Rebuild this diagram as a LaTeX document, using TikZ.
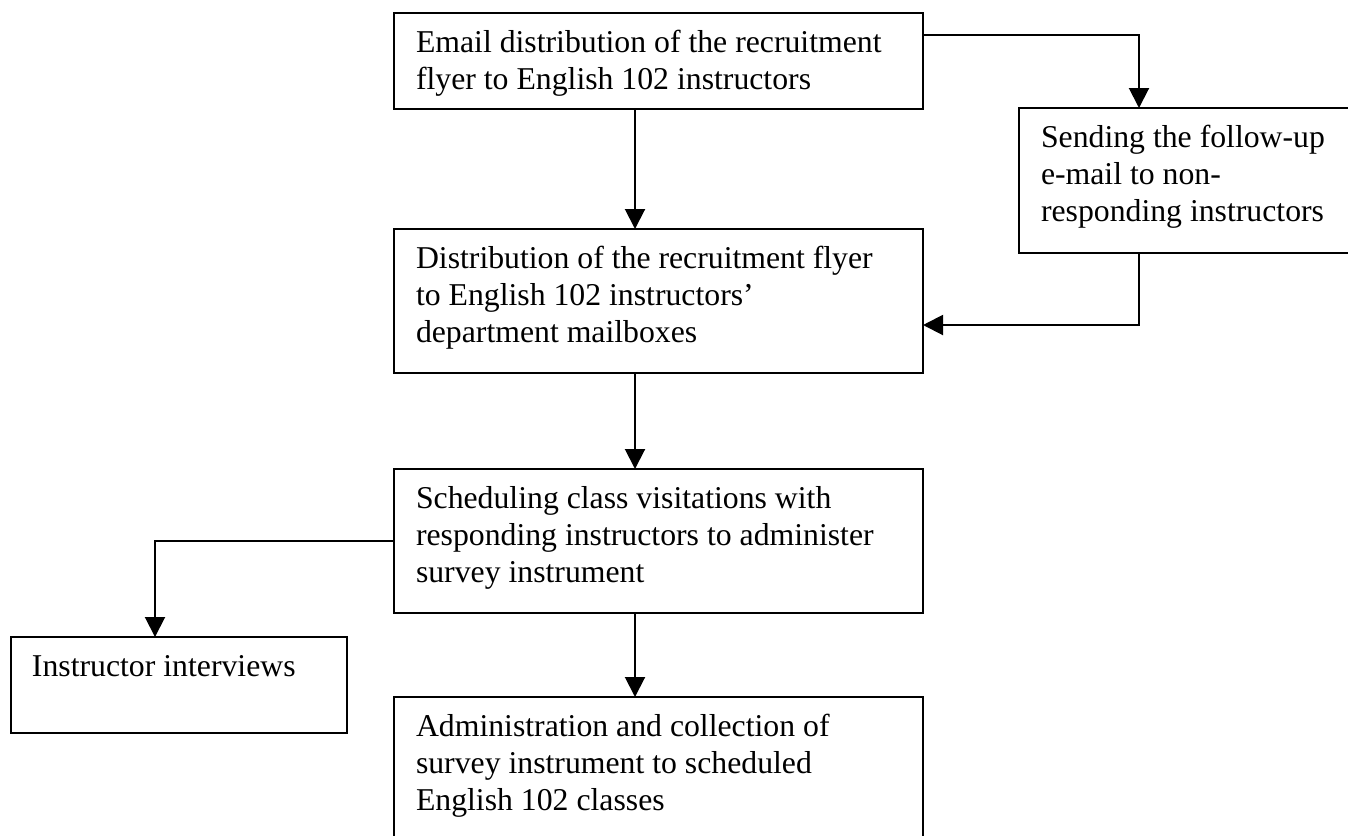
\documentclass[tikz,border=0pt]{standalone}
\usepackage{fontspec}
\setmainfont{Liberation Serif}
\usetikzlibrary{arrows.meta}
\begin{document}
\begin{tikzpicture}[x=0.4pt,y=-0.4pt,
  box/.style={draw=black, line width=0.8pt, inner sep=0pt, outer sep=0pt, anchor=north west},
  txt/.style={inner sep=0pt, outer sep=0pt, anchor=base west, font=\fontsize{12.7pt}{14.8pt}\selectfont},
  arr/.style={draw=black, line width=0.8pt, -{Triangle[length=8pt,width=8pt]}}]
\useasboundingbox[fill=white] (0,0) rectangle (1348,835);
% boxes
\node[box, minimum width=211.6pt, minimum height=38.4pt] (A) at (394,13) {};
\node[box, minimum width=133.2pt, minimum height=58pt] (B) at (1019,108) {};
\node[box, minimum width=211.6pt, minimum height=57.6pt] (C) at (394,229) {};
\node[box, minimum width=211.6pt, minimum height=57.6pt] (D) at (394,469) {};
\node[box, minimum width=134.4pt, minimum height=38.4pt] (E) at (11,637) {};
\node[box, minimum width=211.6pt, minimum height=61.2pt] (F) at (394,697) {};
% texts
\node[txt] (At) at (416,52) {\parbox[t]{200pt}{\raggedright Email distribution of the recruitment\\flyer to English 102 instructors}};
\node[txt] (Bt) at (1041,147) {\parbox[t]{122pt}{\raggedright Sending the follow-up\\e-mail to non-\\responding instructors}};
\node[txt] (Ct) at (416,268) {\parbox[t]{200pt}{\raggedright Distribution of the recruitment flyer\\to English 102 instructors’\\department mailboxes}};
\node[txt] (Dt) at (416,508) {\parbox[t]{200pt}{\raggedright Scheduling class visitations with\\responding instructors to administer\\survey instrument}};
\node[txt] (Et) at (32,676) {\parbox[t]{124pt}{\raggedright Instructor interviews}};
\node[txt] (Ft) at (416,736) {\parbox[t]{200pt}{\raggedright Administration and collection of\\survey instrument to scheduled\\English 102 classes}};
% helper coordinates
\coordinate (ax) at (635,0);
\coordinate (bx) at (1139,0);
\coordinate (ay) at (0,35);
\coordinate (cy) at (0,325);
\coordinate (ex) at (155,0);
% connectors
\draw[arr] (A.south -| ax) -- (C.north -| ax);
\draw[arr] (A.east |- ay) -| (B.north -| bx);
\draw[arr] (B.south -| bx) |- (C.east |- cy);
\draw[arr] (C.south -| ax) -- (D.north -| ax);
\draw[arr] (D.west) -| (E.north -| ex);
\draw[arr] (D.south -| ax) -- (F.north -| ax);
\end{tikzpicture}
\end{document}
